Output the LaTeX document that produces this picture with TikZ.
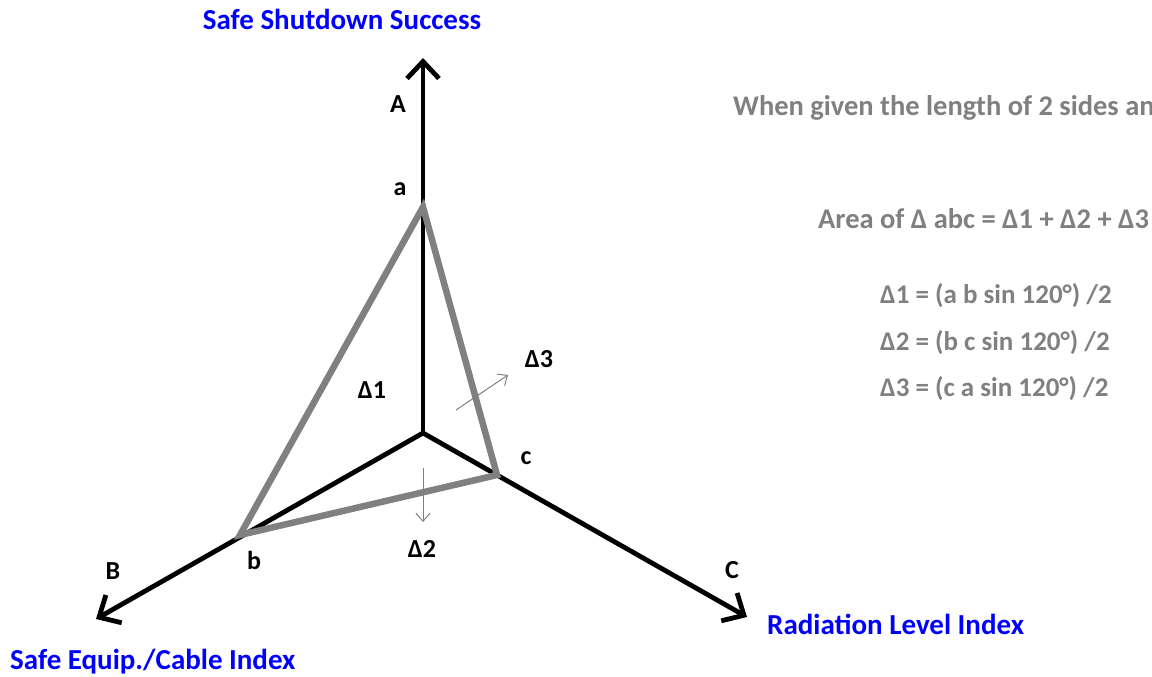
\documentclass[tikz,border=0pt]{standalone}
\usepackage{fontspec}
\setmainfont{Carlito}
\usetikzlibrary{arrows.meta}

\definecolor{sidegray}{RGB}{128,128,128}
\definecolor{labelblue}{RGB}{0,0,255}

\tikzset{
  axisline/.style={line width=4.8pt, line cap=round,
    -{Straight Barb[length=17pt, width=32pt]}},
  sideline/.style={sidegray, line width=6.5pt, line join=miter},
  pointer/.style={sidegray, line width=1pt, -{Straight Barb[length=8pt, width=14pt]}},
  axisname/.style={labelblue, inner sep=0pt, font=\fontsize{29}{33}\selectfont\bfseries},
  letter/.style={inner sep=0pt, font=\fontsize{26}{30}\selectfont\bfseries},
  note/.style={sidegray, inner sep=0pt, anchor=west, font=\fontsize{28.5}{32}\selectfont\bfseries},
  formula/.style={sidegray, inner sep=0pt, anchor=west, font=\fontsize{27}{31}\selectfont\bfseries}
}

\begin{document}
\begin{tikzpicture}[x=1pt, y=-1pt]

  \useasboundingbox (0,0) rectangle (1152,677);

  % Origin, axis ends and the three points
  \coordinate (O) at (423,433);
  \coordinate (Aend) at (423,58);
  \coordinate (Bend) at (96,619);
  \coordinate (Cend) at (747,617);
  \coordinate (a) at (423,207);
  \coordinate (b) at (240,535);
  \coordinate (c) at (497,475);

  % Axes
  \draw[axisline] (O) -- (Aend);
  \draw[axisline] (O) -- (Bend);
  \draw[axisline] (O) -- (Cend);

  % Triangle abc
  \draw[sideline] (a) -- (b) -- (c) -- cycle;

  % Small pointers
  \coordinate (p3s) at (456,410);
  \coordinate (p3e) at (508,375);
  \coordinate (p2s) at (423,468);
  \coordinate (p2e) at (423,522);
  \draw[pointer] (p3s) -- (p3e);
  \draw[pointer] (p2s) -- (p2e);

  % Axis names
  \node[axisname] (nameA) at (342,19) {Safe Shutdown Success};
  \node[axisname, anchor=west] (nameC) at (767,624) {Radiation Level Index};
  \node[axisname, anchor=west] (nameB) at (10,662) {Safe Equip./Cable Index};

  % Letters
  \node[letter] (labA) at (398,104) {A};
  \node[letter] (labB) at (113,571) {B};
  \node[letter] (labC) at (732,570) {C};
  \node[letter] (laba) at (400,189) {a};
  \node[letter] (labb) at (254,560) {b};
  \node[letter] (labc) at (526,458) {c};
  \node[letter] (d1) at (372,390) {Δ1};
  \node[letter] (d2) at (422,549) {Δ2};
  \node[letter] (d3) at (539,359) {Δ3};

  % Formulas
  \node[note] (intro) at (733,108) {When given the length of 2 sides an};
  \node[note] (area) at (818,219) {Area of Δ abc = Δ1 + Δ2 + Δ3};
  \node[formula] (f1) at (880,296) {Δ1 = (a b sin 120°) /2};
  \node[formula] (f2) at (880,343) {Δ2 = (b c sin 120°) /2};
  \node[formula] (f3) at (880,389) {Δ3 = (c a sin 120°) /2};

\end{tikzpicture}
\end{document}
